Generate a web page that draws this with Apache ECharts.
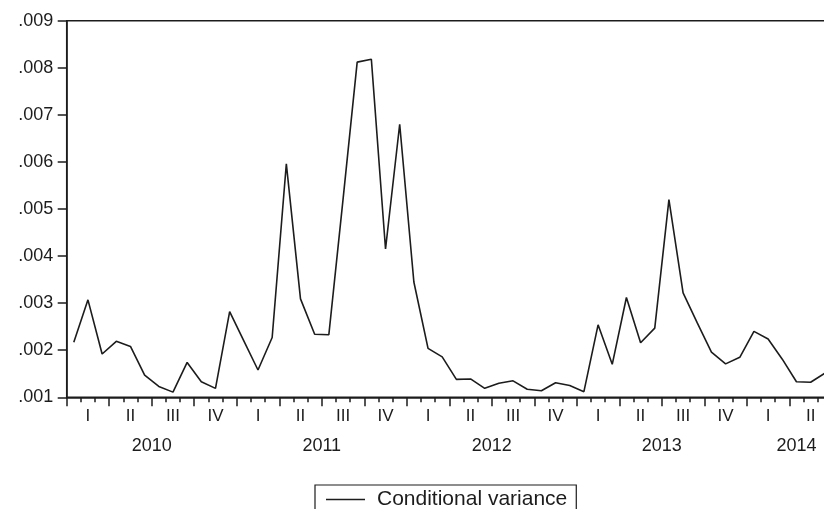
<!DOCTYPE html>
<html>
<head>
<meta charset="utf-8">
<script src="https://cdn.jsdelivr.net/npm/echarts@6/dist/echarts.min.js"></script>
<style>
  html, body { margin: 0; padding: 0; background: #ffffff; }
  #chart { width: 824px; height: 509px; }
</style>
</head>
<body>
<div id="chart"></div>
<script>
// Monthly observations, Jan 2010 – Jul 2014
const months = [
  '2010-01','2010-02','2010-03','2010-04','2010-05','2010-06','2010-07','2010-08','2010-09','2010-10','2010-11','2010-12',
  '2011-01','2011-02','2011-03','2011-04','2011-05','2011-06','2011-07','2011-08','2011-09','2011-10','2011-11','2011-12',
  '2012-01','2012-02','2012-03','2012-04','2012-05','2012-06','2012-07','2012-08','2012-09','2012-10','2012-11','2012-12',
  '2013-01','2013-02','2013-03','2013-04','2013-05','2013-06','2013-07','2013-08','2013-09','2013-10','2013-11','2013-12',
  '2014-01','2014-02','2014-03','2014-04','2014-05','2014-06','2014-07'
];

const quarterNames = ['I', 'II', 'III', 'IV'];

// GARCH conditional variance
const variance = [
  0.00217, 0.00307, 0.00192, 0.00219, 0.00208, 0.00147, 0.00123, 0.00111, 0.00174, 0.00133, 0.00119, 0.00282,
  0.00220, 0.00158, 0.00227, 0.00596, 0.00309, 0.00234, 0.00233, 0.00520, 0.00812, 0.00818, 0.00415, 0.00680,
  0.00345, 0.00204, 0.00186, 0.00138, 0.00139, 0.00119, 0.00130, 0.00135, 0.00117, 0.00114, 0.00131, 0.00125,
  0.00112, 0.00254, 0.00170, 0.00312, 0.00216, 0.00247, 0.00520, 0.00322, 0.00258, 0.00196, 0.00171, 0.00185,
  0.00240, 0.00224, 0.00181, 0.00133, 0.00132, 0.00151
];

const yMin = 0.001, yMax = 0.009, yStep = 0.001;

// Year labels sit in the middle of each year's months
const yearSpans = {};
months.forEach((m, i) => {
  const y = m.slice(0, 4);
  if (!yearSpans[y]) yearSpans[y] = [i, i];
  yearSpans[y][1] = i;
});
const yearAt = {};
Object.keys(yearSpans).forEach(y => {
  const [a, b] = yearSpans[y];
  yearAt[(a + b + 1) / 2] = y;
});

const monthOf = v => parseInt(v.slice(5, 7), 10);
const ink = '#1c1c1c';
const font = '"Liberation Sans", Arial, sans-serif';
const monthWidth = 14.17;

const chart = echarts.init(document.getElementById('chart'), null, { renderer: 'canvas' });

chart.setOption({
  animation: false,
  backgroundColor: '#ffffff',
  textStyle: { fontFamily: font, color: ink },
  grid: {
    left: 66.7,
    top: 20.7,
    width: months.length * monthWidth,
    height: 376.6,
    containLabel: false,
    outerBoundsMode: 'none',
    show: true,
    borderColor: ink,
    borderWidth: 1.5,
    backgroundColor: 'transparent'
  },
  xAxis: [
    {
      // month ticks + quarter numerals
      type: 'category',
      position: 'bottom',
      data: months,
      boundaryGap: true,
      axisLine: { show: true, lineStyle: { color: ink, width: 1.5 } },
      axisTick: { show: true, interval: 0, length: 5, lineStyle: { color: ink, width: 1.5 } },
      axisLabel: {
        interval: (i, v) => (monthOf(v) - 1) % 3 === 1,
        formatter: v => quarterNames[Math.floor((monthOf(v) - 1) / 3)],
        margin: 11,
        fontSize: 17,
        color: ink,
        fontFamily: font
      },
      splitLine: { show: false }
    },
    {
      // longer ticks at quarter boundaries
      type: 'category',
      position: 'bottom',
      data: months,
      boundaryGap: true,
      axisLine: { show: false },
      axisTick: { show: true, interval: (i, v) => (monthOf(v) - 1) % 3 === 0, length: 9, lineStyle: { color: ink, width: 1.5 } },
      axisLabel: { show: false },
      splitLine: { show: false }
    },
    {
      // year labels
      type: 'value',
      position: 'bottom',
      min: 0,
      max: months.length,
      interval: 0.5,
      axisLine: { show: false },
      axisTick: { show: false },
      splitLine: { show: false },
      axisLabel: {
        margin: 40,
        fontSize: 18,
        color: ink,
        fontFamily: font,
        formatter: v => yearAt[v] || ''
      }
    }
  ],
  yAxis: {
    type: 'value',
    min: yMin,
    max: yMax,
    interval: yStep,
    axisLine: { show: true, lineStyle: { color: ink, width: 1.5 } },
    axisTick: { show: true, length: 9, lineStyle: { color: ink, width: 1.5 } },
    axisLabel: {
      margin: 13.5,
      fontSize: 18,
      color: ink,
      fontFamily: font,
      formatter: v => v.toFixed(3).replace(/^0/, '')
    },
    splitLine: { show: false }
  },
  legend: {
    left: 315,
    top: 485,
    icon: 'rect',
    itemWidth: 39,
    itemHeight: 1.5,
    padding: [4, 9, 6, 11],
    borderColor: ink,
    borderWidth: 1.2,
    textStyle: { fontSize: 21, color: ink, fontFamily: font, padding: [0, 0, 0, 7] },
    data: ['Conditional variance']
  },
  series: [
    {
      name: 'Conditional variance',
      type: 'line',
      xAxisIndex: 0,
      yAxisIndex: 0,
      data: variance,
      showSymbol: false,
      symbol: 'none',
      lineStyle: { color: ink, width: 1.6 },
      itemStyle: { color: ink }
    }
  ]
});
</script>
</body>
</html>
